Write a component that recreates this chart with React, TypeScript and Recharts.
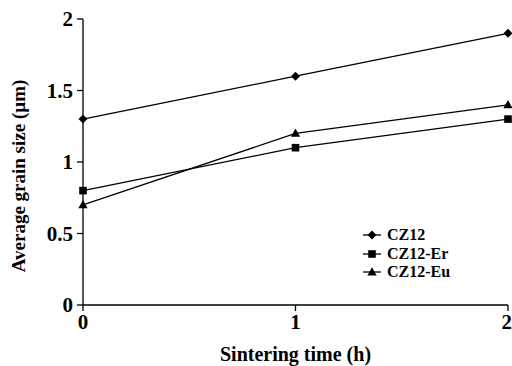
import React from "react";
import { LineChart, Line, XAxis, YAxis } from "recharts";

const hours = [0, 1, 2];
const cz12 = [1.3, 1.6, 1.9];
const cz12Er = [0.8, 1.1, 1.3];
const cz12Eu = [0.7, 1.2, 1.4];
const yTicks = [0, 0.5, 1, 1.5, 2];

const data = hours.map((h, i) => ({
  h,
  cz12: cz12[i],
  er: cz12Er[i],
  eu: cz12Eu[i],
}));

const FONT = "'Liberation Serif', 'Times New Roman', serif";

type Shape = "diamond" | "square" | "triangle";

function markerPath(shape: Shape, cx: number, cy: number) {
  if (shape === "diamond") {
    return `M${cx},${cy - 4.5}L${cx + 4.5},${cy}L${cx},${cy + 4.5}L${cx - 4.5},${cy}Z`;
  }
  if (shape === "square") {
    return `M${cx - 3.8},${cy - 3.8}h7.6v7.6h-7.6Z`;
  }
  return `M${cx},${cy - 4.8}L${cx + 4.6},${cy + 3.4}L${cx - 4.6},${cy + 3.4}Z`;
}

const makeDot = (shape: Shape) => (props: any) => {
  const { cx, cy, index } = props;
  if (cx == null || cy == null) return <g key={index} />;
  return <path key={index} d={markerPath(shape, cx, cy)} fill="#000" />;
};

const series: { key: string; name: string; shape: Shape }[] = [
  { key: "cz12", name: "CZ12", shape: "diamond" },
  { key: "er", name: "CZ12-Er", shape: "square" },
  { key: "eu", name: "CZ12-Eu", shape: "triangle" },
];

function LegendBox() {
  return (
    <div
      style={{
        position: "absolute",
        left: 362,
        top: 226,
        fontFamily: FONT,
        fontWeight: "bold",
        fontSize: 16,
        lineHeight: "18.5px",
      }}
    >
      {series.map((s) => (
        <div
          key={s.key}
          style={{ display: "flex", alignItems: "center", height: 18.5 }}
        >
          <svg width={22} height={12} style={{ marginRight: 3 }}>
            <line x1={1} y1={6} x2={19} y2={6} stroke="#000" strokeWidth={1.3} />
            <path d={markerPath(s.shape, 10, 6)} fill="#000" />
          </svg>
          <span>{s.name}</span>
        </div>
      ))}
    </div>
  );
}

export default function App() {
  return (
    <div
      style={{
        position: "absolute",
        left: 0,
        top: 0,
        width: 512,
        height: 366,
        background: "#fff",
      }}
    >
      <LineChart
        width={512}
        height={366}
        data={data}
        margin={{ top: 19, right: 4, bottom: 0, left: 0 }}
      >
        <XAxis
          dataKey="h"
          type="number"
          domain={[0, 2]}
          ticks={hours}
          height={61}
          stroke="#000"
          strokeWidth={1.3}
          tickSize={6}
          tickMargin={3}
          tick={{ fill: "#000", fontSize: 21, fontWeight: "bold", fontFamily: FONT }}
          label={{
            value: "Sintering time (h)",
            position: "insideBottom",
            offset: 5,
            fill: "#000",
            fontSize: 20,
            fontWeight: "bold",
            fontFamily: FONT,
          }}
        />
        <YAxis
          domain={[0, 2]}
          ticks={yTicks}
          width={83}
          stroke="#000"
          strokeWidth={1.3}
          tickSize={6}
          tickMargin={4}
          tick={{ fill: "#000", fontSize: 21, fontWeight: "bold", fontFamily: FONT }}
          label={{
            value: "Average grain size (\u00b5m)",
            angle: -90,
            position: "insideLeft",
            offset: 18,
            dy: 14,
            fill: "#000",
            fontSize: 19,
            fontWeight: "bold",
            fontFamily: FONT,
            style: { textAnchor: "middle" },
          }}
        />
        {series.map((s) => (
          <Line
            key={s.key}
            dataKey={s.key}
            name={s.name}
            stroke="#000"
            strokeWidth={1.3}
            dot={makeDot(s.shape)}
            activeDot={false}
            isAnimationActive={false}
          />
        ))}
      </LineChart>
      <LegendBox />
    </div>
  );
}
